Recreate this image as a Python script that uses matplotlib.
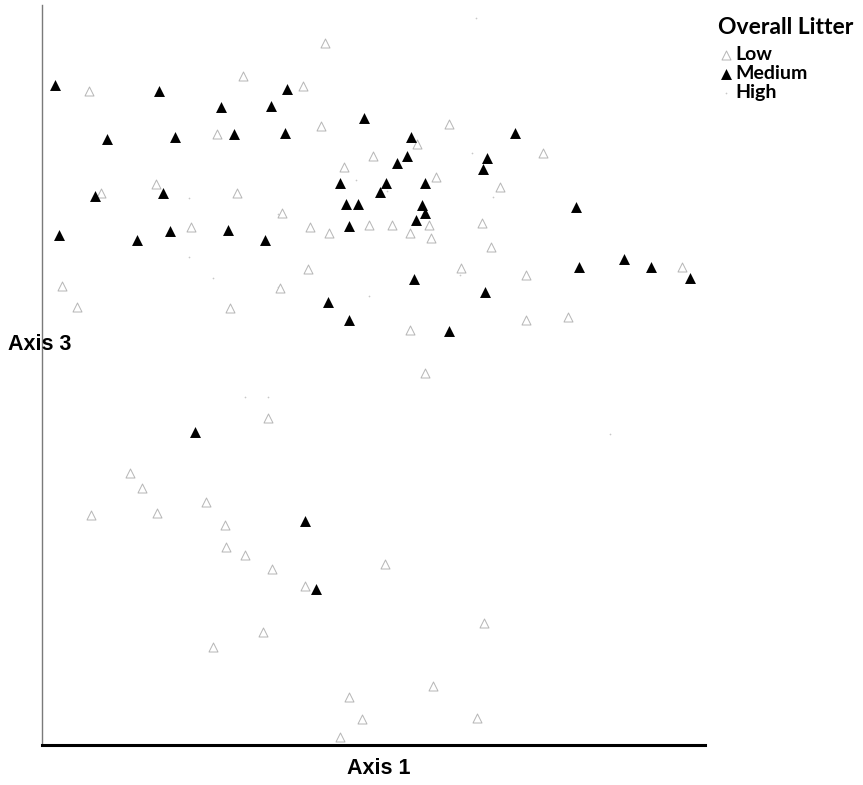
import matplotlib
matplotlib.use("Agg")
import matplotlib.pyplot as plt

# ordination scores (axis 1, axis 3) grouped by overall litter class
low_x = [201, 47, 283, 261, 279, 407, 375, 331, 302, 394, 458, 501, 114, 59, 195, 175,
         240, 268, 287, 327, 350, 368, 387, 389, 440, 449, 419, 484, 484, 526, 640, 20,
         35, 188, 368, 383, 226, 88, 100, 49, 115, 164, 183, 184, 203, 230, 263, 343,
         221, 171, 307, 320, 298, 391, 442, 435, 149, 266, 238]
low_y = [669, 654, 702, 659, 619, 621, 601, 589, 578, 568, 558, 592, 561, 552, 552, 611,
         532, 518, 512, 520, 520, 512, 520, 507, 522, 498, 477, 470, 425, 428, 478, 459,
         438, 437, 415, 372, 327, 272, 257, 230, 232, 243, 220, 198, 190, 176, 159, 181,
         113, 98, 48, 26, 8, 59, 122, 27, 518, 476, 457]

medium_x = [13, 117, 179, 229, 245, 65, 133, 192, 243, 322, 369, 473, 53, 121, 17, 95,
            128, 186, 223, 298, 344, 383, 338, 365, 355, 445, 441, 304, 316, 380, 383, 374,
            307, 372, 443, 286, 307, 407, 534, 537, 582, 609, 648, 153, 263, 274]
medium_y = [660, 654, 638, 639, 656, 606, 608, 611, 612, 627, 608, 612, 549, 552, 510, 505,
            514, 515, 505, 562, 562, 562, 553, 589, 582, 587, 576, 541, 541, 540, 532, 525,
            519, 466, 453, 443, 425, 414, 538, 478, 486, 478, 467, 313, 224, 156]

high_x = [434, 430, 314, 345, 147, 147, 171, 236, 236, 327, 226, 203, 568, 451, 418]
high_y = [727, 592, 565, 554, 547, 488, 467, 531, 458, 449, 348, 348, 311, 548, 470]

W, H = 863, 785
fig = plt.figure(figsize=(W / 100, H / 100), dpi=100)
ax = fig.add_axes([42 / W, 40 / H, 663 / W, 740 / H])

lo = ax.scatter(low_x, low_y, marker="^", s=42, facecolors="white",
                edgecolors="#b5b5b5", linewidths=0.7, label="Low", zorder=2)
md = ax.scatter(medium_x, medium_y, marker="^", s=62, color="black",
                linewidths=0, label="Medium", zorder=3)
hi = ax.scatter(high_x, high_y, marker=".", s=6, color="#c8c8c8",
                linewidths=0, label="High", zorder=1)

ax.set_xlim(0, 663)
ax.set_ylim(0, 740)
ax.set_xticks([])
ax.set_yticks([])
for side in ("top", "right"):
    ax.spines[side].set_visible(False)
ax.spines["left"].set_color("#7a7a7a")
ax.spines["left"].set_linewidth(1.0)
ax.spines["bottom"].set_color("black")
ax.spines["bottom"].set_linewidth(2.2)

lab = dict(family="Liberation Sans", weight="bold", fontsize=15.5)
fig.text(379 / W, 1 - 769 / H, "Axis 1", ha="center", va="center", **lab)
fig.text(8 / W, 1 - 345 / H, "Axis 3", ha="left", va="center", **lab)

# legend heading drawn separately so the entries can sit a bit lower
fig.text(718 / W, 1 - 27 / H, "Overall Litter", ha="left", va="center",
         family="Lato", weight="bold", fontsize=16.5)
leg = fig.legend(handles=[lo, md, hi],
                 loc="upper left", bbox_to_anchor=(711 / W, 1 - 36 / H),
                 frameon=False, borderpad=0, handlelength=0.5, handletextpad=0.25,
                 labelspacing=0.12,
                 prop=dict(family="Lato", weight="bold", size=14))

fig.savefig("out.png", dpi=100)
